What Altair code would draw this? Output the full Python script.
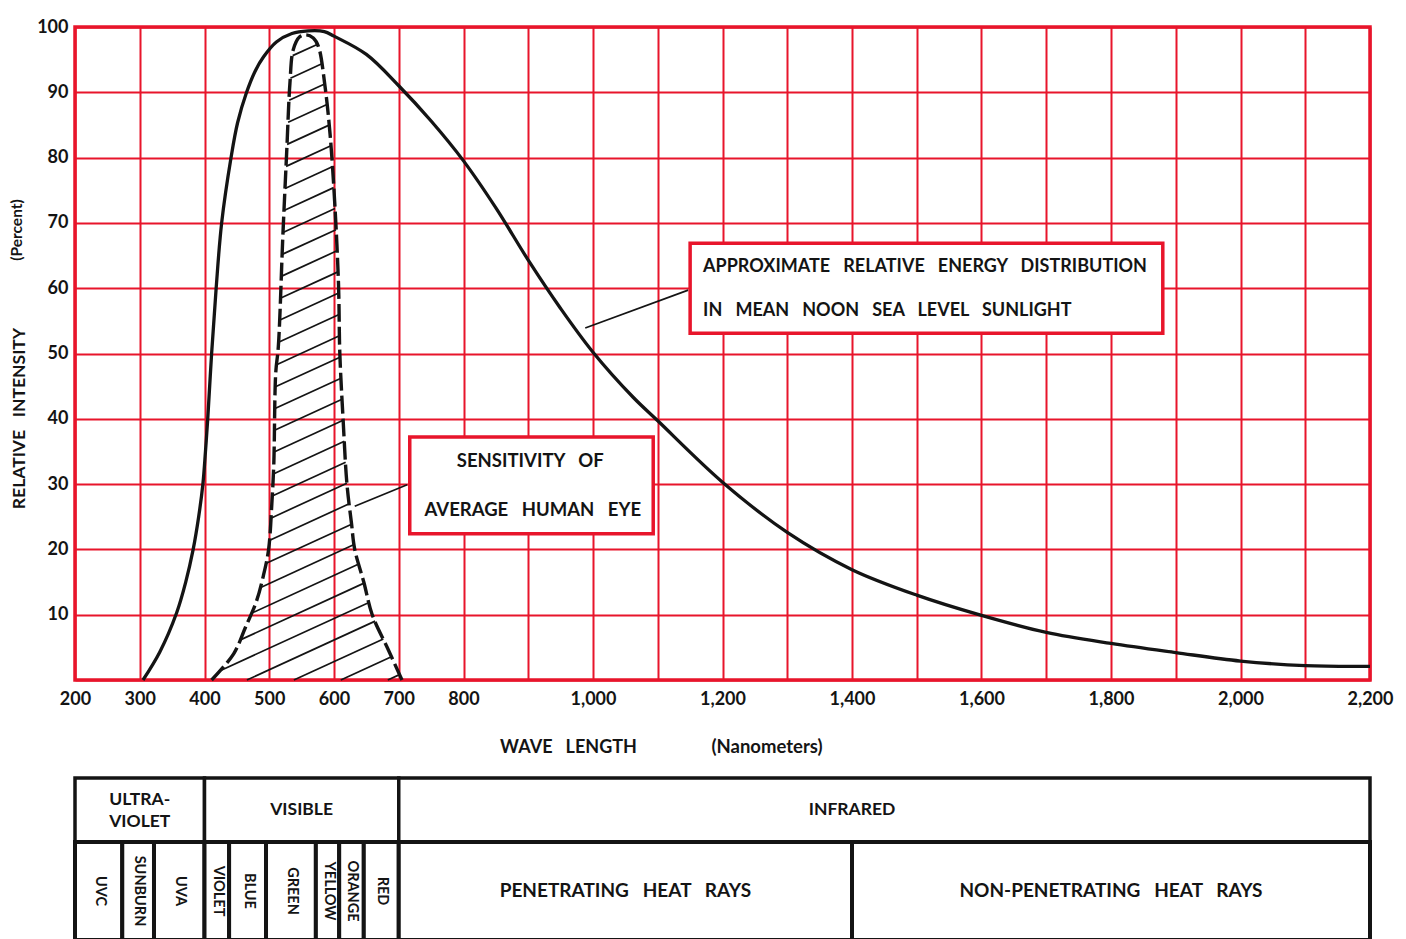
import altair as alt
import pandas as pd
import numpy as np

RED = "#e8152b"
INK = "#141414"
FONT = "Lato"
NB = "\u00a0"

# ---- data ----
sun_nm = [305, 331, 357, 371, 382.5, 391, 397.5, 401.5, 405, 411, 418, 426.5, 441, 451, 465,
          478, 491, 511, 535, 560, 585, 600, 650, 700, 750, 800, 850, 900, 950, 1000, 1062,
          1100, 1200, 1300, 1400, 1500, 1600, 1700, 1800, 1900, 2000, 2100, 2200]
sun_pct = [0, 4.3, 10.3, 15, 20, 25, 30, 35, 40, 50, 60, 70, 80, 85.3, 90,
           93.2, 95.4, 97.7, 99.0, 99.4, 99.3, 98.6, 95.8, 91.0, 85.6, 79.5, 72.3, 64.3, 56.9, 50.2, 43.3,
           39.7, 30.3, 22.6, 16.9, 13, 9.9, 7.3, 5.6, 4.2, 2.9, 2.2, 2.1]

eye_nm = [411, 445, 463, 480, 491, 499, 504, 507, 510, 514, 521, 527, 532, 537, 547, 557,
          568, 576, 586, 594, 601, 607, 609, 614, 620, 627, 632, 646, 659, 684, 705]
eye_pct = [0, 4, 8, 12, 16, 20, 27, 33, 47, 51, 68, 81, 91.5, 96.5, 98.5, 98.8,
           98.3, 97, 91, 83.5, 73.3, 60.5, 50, 40, 30, 24, 20, 15, 10, 4.6, 0]

x_ticks = list(range(200, 2201, 100))
y_ticks = list(range(0, 101, 10))

# spectrum table
band1_names = ["ULTRA-\nVIOLET", "VISIBLE", "INFRARED"]
band1_start = [200, 400, 700]
band1_end = [400, 700, 2200]

band2_names = ["UVC", "SUNBURN", "UVA", "VIOLET", "BLUE", "GREEN", "YELLOW", "ORANGE", "RED",
               "PENETRATING HEAT RAYS", "NON-PENETRATING HEAT RAYS"]
band2_start = [200, 273, 322, 400, 438, 495, 572, 608, 646, 700, 1400]
band2_end = [273, 322, 400, 438, 495, 572, 608, 646, 700, 1400, 2200]

# annotations (data coordinates)
box_x1 = [1150, 717]
box_x2 = [1880, 1093]
box_y1 = [66.9, 37.2]
box_y2 = [53.1, 22.4]
lead_x1 = [1147, 713]
lead_y1 = [59.7, 29.9]
lead_x2 = [988, 632]
lead_y2 = [53.9, 26.6]

note1_lines = ["APPROXIMATE RELATIVE ENERGY DISTRIBUTION", "IN MEAN NOON SEA LEVEL SUNLIGHT"]
note1_x = [1170, 1170]
note1_y = [63.2, 56.5]
note2_lines = ["SENSITIVITY OF", "AVERAGE HUMAN EYE"]
note2_x = [903, 907]
note2_y = [33.5, 26.0]


def wide(s):
    """widen word gaps like the original lettering"""
    return s.replace(" ", " " + NB + NB)


# ---- frames ----
sun_df = pd.DataFrame({"nm": sun_nm, "pct": sun_pct})
eye_df = pd.DataFrame({"nm": eye_nm, "pct": eye_pct})

# hatch segments inside the eye-sensitivity area
slope = 0.0455
gap = 3.3
xs = np.linspace(min(eye_nm), max(eye_nm), 4000)
ev = np.interp(xs, eye_nm, eye_pct)
segs = []
for b in np.arange(-slope * max(eye_nm) + 1.0, 100, gap):
    lv = slope * xs + b
    inside = (lv >= 0) & (lv <= ev)
    idx = np.where(inside)[0]
    if len(idx) < 2:
        continue
    splits = np.where(np.diff(idx) > 1)[0]
    runs = np.split(idx, splits + 1)
    run = max(runs, key=len)
    i0, i1 = run[0], run[-1]
    if xs[i1] - xs[i0] < 2:
        continue
    segs.append({"nm": xs[i0], "pct": lv[i0], "nm2": xs[i1], "pct2": lv[i1]})
hatch_df = pd.DataFrame(segs)

box_df = pd.DataFrame({"nm": box_x1, "nm2": box_x2, "pct": box_y1, "pct2": box_y2})
lead_df = pd.DataFrame({"nm": lead_x1, "pct": lead_y1, "nm2": lead_x2, "pct2": lead_y2})
note1_df = pd.DataFrame({"nm": note1_x, "pct": note1_y, "t": [wide(s) for s in note1_lines]})
note2_df = pd.DataFrame({"nm": note2_x, "pct": note2_y, "t": [wide(s) for s in note2_lines]})

xscale = alt.Scale(domain=[200, 2200], nice=False, zero=False)
yscale = alt.Scale(domain=[0, 100], nice=False, zero=False)

xaxis = alt.Axis(
    values=x_ticks,
    labelExpr="(datum.value > 800 && datum.value % 200 != 0) ? '' : format(datum.value, ',')",
    grid=True, gridColor=RED, gridWidth=2, gridOpacity=1,
    ticks=False, domain=False,
    labelFont=FONT, labelFontSize=18, labelFontWeight="bold", labelColor=INK,
    labelPadding=10, labelFlush=False, labelOverlap=False,
    title=wide("WAVE LENGTH"), titleFont=FONT, titleFontSize=18, titleFontWeight="bold",
    titleColor=INK, titleX=493, titleY=67, titleAlign="center", titleBaseline="middle",
)
yaxis = alt.Axis(
    values=y_ticks,
    labelExpr="datum.value == 0 ? '' : datum.value",
    grid=True, gridColor=RED, gridWidth=2, gridOpacity=1,
    ticks=False, domain=False,
    labelFont=FONT, labelFontSize=18, labelFontWeight="bold", labelColor=INK,
    labelPadding=7, labelFlush=False, labelOverlap=False,
    title=wide("RELATIVE INTENSITY"), titleFont=FONT, titleFontSize=17.5, titleFontWeight="bold",
    titleColor=INK, titleAngle=270, titleX=-56, titleY=391, titleAlign="center",
    titleBaseline="middle",
)

X = alt.X("nm:Q", scale=xscale, axis=xaxis)
Y = alt.Y("pct:Q", scale=yscale, axis=yaxis)

hatch = alt.Chart(hatch_df).mark_rule(color=INK, strokeWidth=1.7).encode(
    x=X, y=Y, x2="nm2:Q", y2="pct2:Q")

eye_line = alt.Chart(eye_df).mark_line(
    color=INK, strokeWidth=3.4, strokeDash=[18, 5], interpolate="catmull-rom"
).encode(x=X, y=Y)

sun_line = alt.Chart(sun_df).mark_line(
    color=INK, strokeWidth=3.3, interpolate="catmull-rom"
).encode(x=X, y=Y)

leaders = alt.Chart(lead_df).mark_rule(color=INK, strokeWidth=1.7).encode(
    x=X, y=Y, x2="nm2:Q", y2="pct2:Q")

boxes = alt.Chart(box_df).mark_rect(fill="white", stroke=RED, strokeWidth=3.5).encode(
    x=X, y=Y, x2="nm2:Q", y2="pct2:Q")

note1 = alt.Chart(note1_df).mark_text(
    align="left", baseline="middle", font=FONT, fontSize=18, fontWeight="bold", color=INK
).encode(x=X, y=Y, text="t:N")

note2 = alt.Chart(note2_df).mark_text(
    align="center", baseline="middle", font=FONT, fontSize=18.5, fontWeight="bold", color=INK
).encode(x=X, y=Y, text="t:N")

percent = alt.Chart(pd.DataFrame({"t": ["(Percent)"]})).mark_text(
    angle=270, align="center", baseline="middle", font=FONT, fontSize=15.5,
    fontWeight="bold", color=INK
).encode(x=alt.value(-58), y=alt.value(203), text="t:N")

nanom = alt.Chart(pd.DataFrame({"t": ["(Nanometers)"]})).mark_text(
    align="center", baseline="middle", font=FONT, fontSize=18.5,
    fontWeight="bold", color=INK
).encode(x=alt.value(692), y=alt.value(720), text="t:N")

top = alt.layer(hatch, eye_line, sun_line, leaders, boxes, note1, note2, percent, nanom).properties(
    width=1295, height=653)

# ---- spectrum table ----
t1 = pd.DataFrame({"name": band1_names, "s": band1_start, "e": band1_end})
t1["mid"] = (t1["s"] + t1["e"]) / 2
t1.loc[t1["name"] == "INFRARED", "mid"] = 1400
t1["multi"] = t1["name"].str.contains("\n")
t2 = pd.DataFrame({"name": band2_names, "s": band2_start, "e": band2_end})
t2["mid"] = (t2["s"] + t2["e"]) / 2
t2["w"] = t2["e"] - t2["s"]
t2["label"] = t2["name"].map(wide)

tx = alt.Scale(domain=[200, 2200], nice=False, zero=False)
TX = alt.X("mid:Q", scale=tx, axis=None)

row1 = alt.layer(
    alt.Chart(t1).mark_rect(fill="white", stroke=INK, strokeWidth=3.5).encode(
        x=alt.X("s:Q", scale=tx, axis=None), x2="e:Q"),
    alt.Chart(t1).transform_filter("!datum.multi").mark_text(
        font=FONT, fontSize=17.5, fontWeight="bold", color=INK, baseline="middle").encode(
        x=TX, text="name:N"),
    alt.Chart(t1).transform_filter("datum.multi").mark_text(
        font=FONT, fontSize=17.5, fontWeight="bold", color=INK, baseline="middle",
        lineBreak="\n", lineHeight=22, dy=-10).encode(
        x=TX, text="name:N"),
).properties(width=1295, height=64, view=alt.ViewBackground(stroke=None))

row2 = alt.layer(
    alt.Chart(t2).mark_rect(fill="white", stroke=INK, strokeWidth=4).encode(
        x=alt.X("s:Q", scale=tx, axis=None), x2="e:Q"),
    alt.Chart(t2).transform_filter("datum.w < 200").mark_text(
        font=FONT, fontSize=14.5, fontWeight="bold", color=INK, angle=90, baseline="middle",
        dy=-1).encode(x=TX, text="name:N"),
    alt.Chart(t2).transform_filter("datum.w >= 200").mark_text(
        font=FONT, fontSize=19, fontWeight="bold", color=INK, baseline="middle").encode(
        x=TX, text="label:N"),
).properties(width=1295, height=98, view=alt.ViewBackground(stroke=None))

table = alt.vconcat(row1, row2, spacing=0, bounds="flush")

chart = alt.vconcat(top, table, spacing=98, bounds="flush").properties(
    padding={"left": 0, "top": 8, "right": 0, "bottom": 0},
    background="white",
).configure_view(stroke=RED, strokeWidth=3.5)

chart.save("out.html", embed_options={"renderer": "svg", "actions": False})
